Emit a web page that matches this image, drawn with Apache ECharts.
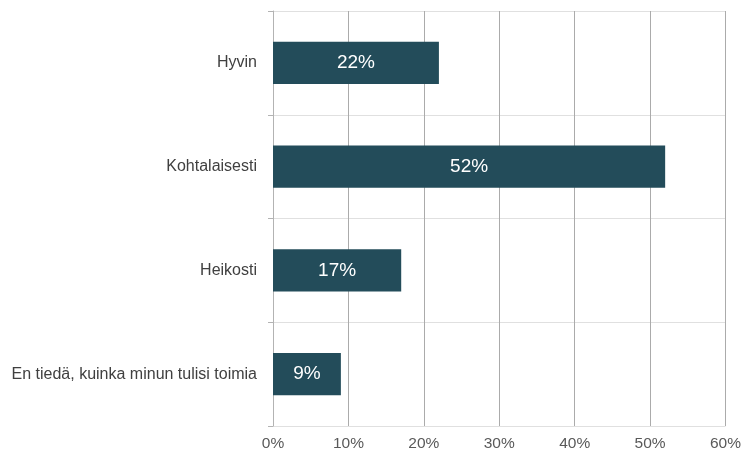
<!DOCTYPE html>
<html>
<head>
<meta charset="utf-8">
<script src="https://cdn.jsdelivr.net/npm/echarts@6/dist/echarts.min.js"></script>
<style>
  html, body { margin: 0; padding: 0; background: #fff; }
  #chart { width: 744px; height: 454px; }
</style>
</head>
<body>
<div id="chart"></div>
<script>
const categories = ['Hyvin', 'Kohtalaisesti', 'Heikosti', 'En tiedä, kuinka minun tulisi toimia']
const values = [22, 52, 17, 9]
const xTicks = [0, 10, 20, 30, 40, 50, 60]

const chart = echarts.init(document.getElementById('chart'))

const option = {
  animation: false,
  textStyle: { fontFamily: 'Liberation Sans, Arial, sans-serif' },
  grid: { left: 273, right: 17, top: 11, bottom: 28 },
  xAxis: {
    type: 'value',
    min: xTicks[0],
    max: xTicks[xTicks.length - 1],
    interval: 10,
    axisLine: { show: false },
    axisTick: { show: false },
    axisLabel: {
      formatter: '{value}%',
      color: '#595959',
      fontSize: 15.5,
      margin: 10
    },
    splitLine: { lineStyle: { color: '#ababab', width: 1 } }
  },
  yAxis: {
    type: 'category',
    inverse: true,
    data: categories,
    axisLine: { show: true, lineStyle: { color: '#b3b3b3' } },
    axisTick: { show: true, length: 5, lineStyle: { color: '#b3b3b3' } },
    axisLabel: { color: '#404040', fontSize: 16, margin: 16 },
    splitLine: { show: true, lineStyle: { color: '#e0e0e0' } }
  },
  series: [
    {
      type: 'bar',
      data: values,
      barWidth: '40.5%',
      itemStyle: { color: '#234c5a' },
      label: {
        show: true,
        position: 'inside',
        formatter: '{c}%',
        color: '#fff',
        fontSize: 19
      }
    }
  ]
}
chart.setOption(option)
</script>
</body>
</html>
